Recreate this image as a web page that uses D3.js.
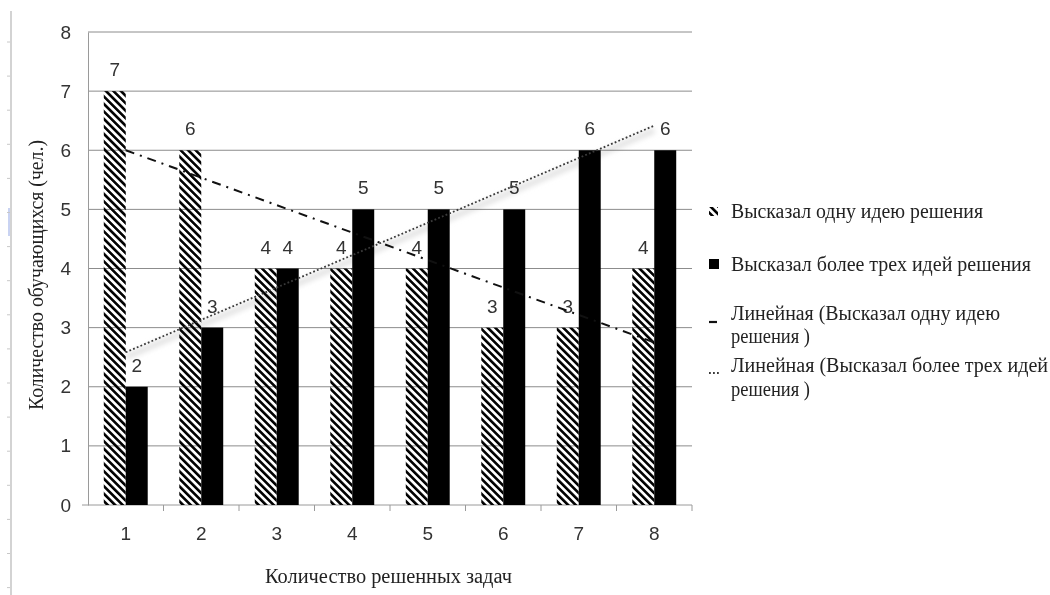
<!DOCTYPE html>
<html>
<head>
<meta charset="utf-8">
<script src="https://cdn.jsdelivr.net/npm/d3@7"></script>
<style>
  html, body { margin: 0; padding: 0; background: #fff; }
  svg { display: block; }
  .serif { font-family: "Liberation Serif", "Times New Roman", "DejaVu Serif", serif; }
  .num { font-family: "Liberation Sans", Arial, sans-serif; }
</style>
</head>
<body>
<svg id="chart" width="1050" height="595"></svg>
<script>
// Number of solved problems (x categories)
const categories = ["1", "2", "3", "4", "5", "6", "7", "8"];
// Students who proposed one solution idea
const oneIdea = [7, 6, 4, 4, 4, 3, 3, 4];
// Students who proposed more than three solution ideas
const threePlus = [2, 3, 4, 5, 5, 5, 6, 6];
const seriesNames = [
  "Высказал одну идею решения",
  "Высказал более трех идей решения"
];
const yTicks = [0, 1, 2, 3, 4, 5, 6, 7, 8];

const svg = d3.select("#chart");
const margin = { left: 88, right: 692, top: 32, bottom: 505 };

// Hatch pattern for the "one idea" series
const defs = svg.append("defs");
defs.append("pattern")
  .attr("id", "hatch")
  .attr("patternUnits", "userSpaceOnUse")
  .attr("width", 5.3).attr("height", 5.3)
  .attr("patternTransform", "rotate(-45)")
  .append("rect")
  .attr("x", 0).attr("y", 0).attr("width", 2.6).attr("height", 5.3)
  .attr("fill", "#000");

const soft = defs.append("filter").attr("id", "soft")
  .attr("x", "-10%").attr("y", "-50%").attr("width", "120%").attr("height", "200%");
soft.append("feGaussianBlur").attr("stdDeviation", 2.5);

// Page ruler on the left edge
const ruler = svg.append("g");
ruler.append("line").attr("x1", 11).attr("x2", 11).attr("y1", 11).attr("y2", 595)
  .attr("stroke", "#c4c4c4").attr("stroke-width", 1.5);
ruler.append("line").attr("x1", 9).attr("x2", 9).attr("y1", 208).attr("y2", 236)
  .attr("stroke", "#c9d3f2").attr("stroke-width", 2);
d3.range(42, 595, 34.1).forEach(y => {
  ruler.append("line").attr("x1", 7).attr("x2", 10).attr("y1", y).attr("y2", y)
    .attr("stroke", "#c8c8c8");
});

const x = d3.scaleBand().domain(categories).range([margin.left, margin.right]).padding(0);
const bw = x.bandwidth();
const xs = d3.scaleBand().domain([0, 1]).range([bw * 0.209, bw * 0.791]).padding(0);
const y = d3.scaleLinear().domain([0, 8]).range([margin.bottom, margin.top]);

// Horizontal gridlines
svg.append("g").selectAll("line").data(yTicks.filter(d => d > 0)).join("line")
  .attr("x1", margin.left).attr("x2", margin.right)
  .attr("y1", d => y(d)).attr("y2", d => y(d))
  .attr("stroke", "#8c8c8c").attr("stroke-width", 1);

// Y axis
const yAxis = svg.append("g").attr("transform", `translate(${margin.left},0)`)
  .call(d3.axisLeft(y).tickValues(yTicks).tickSize(0).tickPadding(17));
yAxis.select(".domain").attr("stroke", "#9a9a9a");
yAxis.selectAll("text").attr("class", "num").attr("font-size", 19).attr("fill", "#333");

// X axis
const xAxis = svg.append("g").attr("transform", `translate(0,${margin.bottom})`)
  .call(d3.axisBottom(x).tickSize(0).tickPadding(22));
xAxis.select(".domain").remove();
xAxis.append("line").attr("x1", margin.left - 6).attr("x2", margin.right)
  .attr("stroke", "#9a9a9a");
xAxis.selectAll(".sep").data(categories).join("line")
  .attr("class", "sep")
  .attr("x1", d => x(d) + bw).attr("x2", d => x(d) + bw)
  .attr("y1", 0).attr("y2", 6).attr("stroke", "#9a9a9a");
xAxis.selectAll(".tick text").attr("class", "num").attr("font-size", 19).attr("fill", "#333");

// Bars
const rows = categories.map((c, i) => ({ c, v: [oneIdea[i], threePlus[i]] }));
const grp = svg.append("g").selectAll("g").data(rows).join("g")
  .attr("transform", d => `translate(${x(d.c)},0)`);
grp.selectAll("rect").data(d => d.v.map((v, k) => ({ v, k }))).join("rect")
  .attr("x", d => xs(d.k)).attr("width", xs.bandwidth())
  .attr("y", d => y(d.v)).attr("height", d => y(0) - y(d.v))
  .attr("fill", d => d.k === 0 ? "url(#hatch)" : "#000");

// Linear trend lines (least squares over the category index)
function fit(vals) {
  const n = vals.length, idx = d3.range(1, n + 1);
  const mx = d3.mean(idx), my = d3.mean(vals);
  const sxy = d3.sum(idx, (xi, i) => (xi - mx) * (vals[i] - my));
  const sxx = d3.sum(idx, xi => (xi - mx) ** 2);
  const b = sxy / sxx, a = my - b * mx;
  return [[1, a + b], [n, a + b * n]];
}
const cx = i => x(categories[i - 1]) + bw / 2;
const trendLine = d3.line().x(d => cx(d[0])).y(d => y(d[1]));

const t2 = fit(threePlus);
// soft drop shadow under the dotted trend line; multiply keeps bars black
svg.append("path").attr("d", trendLine(t2))
  .attr("transform", "translate(0,5)")
  .attr("stroke", "#e4e4e4").attr("stroke-width", 6).attr("fill", "none")
  .attr("filter", "url(#soft)")
  .style("mix-blend-mode", "multiply");
svg.append("path").attr("d", trendLine(t2))
  .attr("stroke", "#3a3a3a").attr("stroke-width", 1.8).attr("fill", "none")
  .attr("stroke-dasharray", "1.8 2.2");

const t1 = fit(oneIdea);
svg.append("path").attr("d", trendLine(t1))
  .attr("stroke", "#111").attr("stroke-width", 2).attr("fill", "none")
  .attr("stroke-dasharray", "9 6 2 6");

// Value labels
grp.selectAll("text.val").data(d => d.v.map((v, k) => ({ v, k }))).join("text")
  .attr("class", "val num")
  .attr("x", d => xs(d.k) + xs.bandwidth() / 2)
  .attr("y", d => y(d.v) - 15)
  .attr("text-anchor", "middle")
  .attr("font-size", 19).attr("fill", "#333")
  .text(d => d.v);

// Axis titles
svg.append("text").attr("class", "serif")
  .attr("x", 265).attr("y", 583)
  .attr("textLength", 247).attr("lengthAdjust", "spacingAndGlyphs")
  .attr("font-size", 20).attr("fill", "#222")
  .text("Количество решенных задач");
svg.append("text").attr("class", "serif")
  .attr("transform", "translate(43,410) rotate(-90)")
  .attr("textLength", 270).attr("lengthAdjust", "spacingAndGlyphs")
  .attr("font-size", 20).attr("fill", "#222")
  .text("Количество обучающихся (чел.)");

// Legend
const lg = svg.append("g").attr("class", "serif").attr("font-size", 20).attr("fill", "#222");
const legendText = [
  { t: seriesNames[0], y: 218, w: 252 },
  { t: seriesNames[1], y: 271, w: 300 },
  { t: "Линейная (Высказал одну идею", y: 320, w: 269 },
  { t: "решения )", y: 343, w: 79 },
  { t: "Линейная (Высказал более трех идей", y: 372, w: 317 },
  { t: "решения )", y: 396, w: 79 }
];
lg.selectAll("text").data(legendText).join("text")
  .attr("x", 731).attr("y", d => d.y)
  .attr("textLength", d => d.w).attr("lengthAdjust", "spacingAndGlyphs")
  .text(d => d.t);
lg.append("rect").attr("x", 709).attr("y", 207).attr("width", 9).attr("height", 9).attr("fill", "url(#hatch)");
lg.append("rect").attr("x", 709).attr("y", 259).attr("width", 10).attr("height", 10).attr("fill", "#000");
lg.append("line").attr("x1", 709).attr("x2", 717).attr("y1", 322).attr("y2", 322)
  .attr("stroke", "#111").attr("stroke-width", 2.2);
lg.append("line").attr("x1", 709).attr("x2", 721).attr("y1", 373).attr("y2", 373)
  .attr("stroke", "#3a3a3a").attr("stroke-width", 1.8).attr("stroke-dasharray", "1.8 2.2");
</script>
</body>
</html>
